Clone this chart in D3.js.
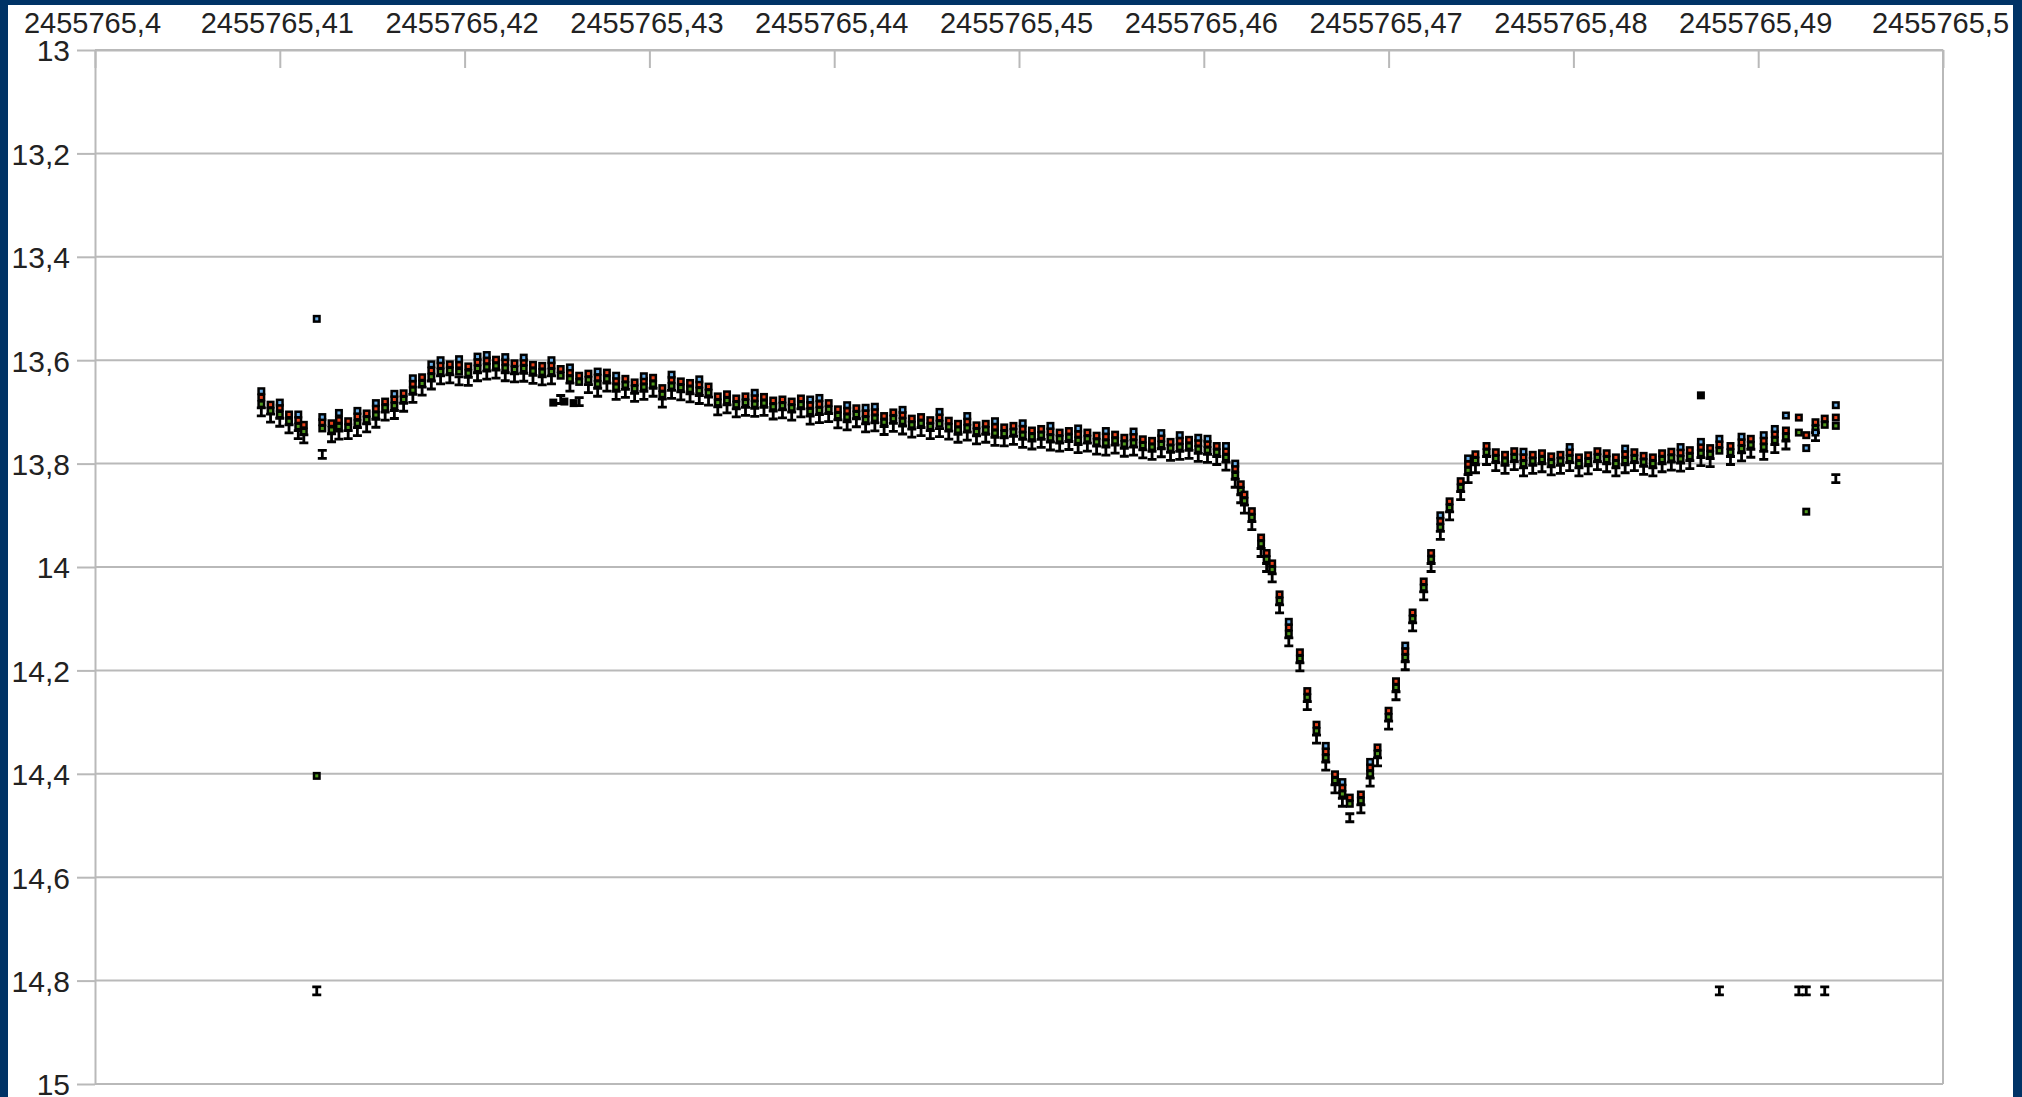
<!DOCTYPE html>
<html>
<head>
<meta charset="utf-8">
<script src="https://cdn.jsdelivr.net/npm/d3@7"></script>
<style>
  body { margin: 0; background: #003366; }
  svg { display: block; }
  text { font-family: "Liberation Sans", Arial, sans-serif; fill: #222; }
</style>
</head>
<body>
<div id="chart"></div>
<script>
// axis ticks
const JD0 = 2455765;
const xTicks = [2455765.40, 2455765.41, 2455765.42, 2455765.43, 2455765.44, 2455765.45,
                2455765.46, 2455765.47, 2455765.48, 2455765.49, 2455765.50];
const yTicks = [13, 13.2, 13.4, 13.6, 13.8, 14, 14.2, 14.4, 14.6, 14.8, 15];

// observation times (fraction of day after JD0)
const jdFrac = [
  .4090,.4095,.4100,.4105,.4110,.4113,.4120,.4123,.4128,.4132,
  .4137,.4142,.4147,.4152,.4157,.4162,.4167,.4172,.4177,.4182,
  .4187,.4192,.4197,.4202,.4207,.4212,.4217,.4222,.4227,.4232,
  .4237,.4242,.4247,.4252,.4257,.4262,.4267,.4272,.4277,.4282,
  .4287,.4292,.4297,.4302,.4307,.4312,.4317,.4322,.4327,.4332,
  .4337,.4342,.4347,.4352,.4357,.4362,.4367,.4372,.4377,.4382,
  .4387,.4392,.4397,.4402,.4407,.4412,.4417,.4422,.4427,.4432,
  .4437,.4442,.4447,.4452,.4457,.4462,.4467,.4472,.4477,.4482,
  .4487,.4492,.4497,.4502,.4507,.4512,.4517,.4522,.4527,.4532,
  .4537,.4542,.4547,.4552,.4557,.4562,.4567,.4572,.4577,.4582,
  .4587,.4592,.4597,.4602,.4607,.4612,.4617,.4620,.4622,.4626,
  .4631,.4634,.4637,.4641,.4646,.4652,.4656,.4661,.4666,.4671,
  .4675,.4679,.4685,.4690,.4694,.4700,.4704,.4709,.4713,.4719,
  .4723,.4728,.4733,.4739,.4743,.4747,.4753,.4758,.4763,.4768,
  .4773,.4778,.4783,.4788,.4793,.4798,.4803,.4808,.4813,.4818,
  .4823,.4828,.4833,.4838,.4843,.4848,.4853,.4858,.4863,.4869,
  .4874,.4879,.4885,.4891,.4896,.4903,.4909,.4915,.4922,.4926,
  .4931,.4936,.4942
];

// magnitudes, black series with error bars
const magBar = [
  13.700,13.712,13.720,13.733,13.744,13.752,14.820,13.782,13.750,13.745,
  13.744,13.738,13.731,13.722,13.708,13.705,13.691,13.674,13.660,13.648,
  13.638,13.636,13.640,13.641,13.632,13.629,13.627,13.632,13.634,13.633,
  13.637,13.640,13.638,13.676,13.652,13.680,13.655,13.662,13.652,13.668,
  13.664,13.672,13.668,13.662,13.683,13.666,13.669,13.673,13.676,13.679,
  13.698,13.694,13.702,13.699,13.701,13.699,13.706,13.704,13.708,13.702,
  13.716,13.713,13.711,13.723,13.727,13.721,13.731,13.729,13.736,13.730,
  13.735,13.741,13.738,13.744,13.740,13.745,13.751,13.747,13.754,13.751,
  13.757,13.758,13.755,13.761,13.764,13.761,13.766,13.768,13.765,13.771,
  13.768,13.774,13.776,13.772,13.778,13.776,13.781,13.784,13.779,13.786,
  13.784,13.782,13.788,13.790,13.794,13.805,13.838,13.868,13.888,13.920,
  13.972,14.001,14.021,14.081,14.145,14.193,14.268,14.333,14.385,14.429,
  14.455,14.485,14.468,14.416,14.377,14.306,14.249,14.191,14.116,14.056,
  14.001,13.939,13.901,13.862,13.829,13.810,13.794,13.806,13.811,13.804,
  13.816,13.811,13.808,13.814,13.811,13.806,13.816,13.812,13.804,13.808,
  13.816,13.810,13.806,13.813,13.816,13.808,13.805,13.807,13.802,13.796,
  13.798,14.820,13.794,13.787,13.780,13.784,13.771,13.764,14.820,14.820,
  13.748,14.820,13.829
];

const magGreen = [
  13.685,13.698,13.705,13.718,13.728,13.738,14.404,13.732,13.735,13.728,
  13.730,13.722,13.715,13.706,13.692,13.688,13.676,13.658,13.645,13.632,
  13.622,13.620,13.622,13.625,13.616,13.613,13.611,13.615,13.618,13.616,
  13.621,13.623,13.622,13.630,13.636,13.642,13.638,13.646,13.636,13.652,
  13.648,13.655,13.652,13.646,13.666,13.650,13.653,13.656,13.659,13.663,
  13.682,13.678,13.686,13.682,13.685,13.683,13.690,13.688,13.692,13.686,
  13.699,13.697,13.695,13.707,13.710,13.705,13.715,13.712,13.720,13.713,
  13.718,13.725,13.722,13.728,13.723,13.729,13.735,13.731,13.738,13.735,
  13.741,13.742,13.739,13.745,13.748,13.745,13.750,13.752,13.749,13.755,
  13.752,13.758,13.760,13.756,13.762,13.760,13.765,13.768,13.763,13.770,
  13.768,13.766,13.772,13.774,13.778,13.788,13.823,13.852,13.872,13.904,
  13.955,13.985,14.005,14.065,14.129,14.177,14.252,14.317,14.369,14.413,
  14.439,14.458,14.452,14.400,14.361,14.290,14.233,14.175,14.100,14.040,
  13.985,13.923,13.885,13.846,13.813,13.794,13.778,13.790,13.795,13.788,
  13.800,13.795,13.792,13.798,13.795,13.790,13.800,13.796,13.788,13.792,
  13.800,13.794,13.790,13.797,13.800,13.792,13.789,13.791,13.786,13.780,
  13.782,13.775,13.778,13.771,13.764,13.768,13.755,13.748,13.740,13.893,
  13.732,13.725,13.727
];

const magRed = [
  13.672,13.686,13.692,13.705,13.716,13.725,null,13.720,13.722,13.716,
  13.718,13.709,13.703,13.694,13.680,13.676,13.664,13.646,13.633,13.620,
  13.610,13.608,13.609,13.612,13.604,13.601,13.599,13.603,13.606,13.604,
  13.609,13.611,13.610,13.617,13.624,13.630,13.626,13.634,13.624,13.640,
  13.636,13.643,13.640,13.634,13.654,13.638,13.641,13.644,13.647,13.651,
  13.670,13.666,13.674,13.670,13.673,13.671,13.678,13.676,13.680,13.674,
  13.687,13.685,13.683,13.695,13.698,13.693,13.703,13.700,13.708,13.701,
  13.706,13.713,13.710,13.716,13.711,13.717,13.723,13.719,13.726,13.723,
  13.729,13.730,13.727,13.733,13.736,13.733,13.738,13.740,13.737,13.743,
  13.740,13.746,13.748,13.744,13.750,13.748,13.753,13.756,13.751,13.758,
  13.756,13.754,13.760,13.762,13.766,13.776,13.810,13.840,13.860,13.892,
  13.943,13.973,13.993,14.053,14.117,14.165,14.240,14.305,14.357,14.401,
  14.427,14.446,14.440,14.388,14.349,14.278,14.221,14.163,14.088,14.028,
  13.973,13.911,13.873,13.834,13.801,13.782,13.766,13.778,13.783,13.776,
  13.788,13.783,13.780,13.786,13.783,13.778,13.788,13.784,13.776,13.780,
  13.788,13.782,13.778,13.785,13.788,13.780,13.777,13.779,13.774,13.768,
  13.770,13.763,13.766,13.759,13.752,13.756,13.743,13.736,13.711,13.745,
  13.720,13.713,13.711
];

const magBlue = [
  13.660,null,13.682,null,13.705,null,13.520,13.710,null,13.702,
  null,13.698,null,13.683,null,13.665,null,13.635,null,13.608,
  13.600,null,13.598,null,13.593,13.590,null,13.594,null,13.595,
  null,null,13.600,null,13.614,null,null,13.622,null,13.630,
  null,null,13.631,null,null,13.628,null,null,13.637,null,
  null,null,null,null,13.663,null,null,null,null,null,
  13.676,13.673,null,null,13.687,null,13.692,13.690,null,null,
  13.696,null,null,null,13.700,null,null,13.708,null,null,
  13.718,null,null,13.722,null,null,13.727,null,null,13.732,
  null,null,13.737,null,null,13.738,null,null,13.741,null,
  13.745,null,13.750,13.752,null,13.766,13.800,null,null,null,
  null,null,null,null,14.106,null,null,null,14.346,null,
  14.416,null,null,14.377,null,null,null,14.152,null,null,
  null,13.900,null,null,13.790,null,null,null,null,null,
  13.777,null,null,null,null,13.768,null,null,null,null,
  null,13.771,null,null,null,null,null,13.768,null,13.758,
  null,13.752,null,13.748,null,13.745,13.733,13.707,null,13.770,
  13.740,null,13.687
];

// a few plain black points
const strayFrac = [.4248, .4254, .4259, .4869];
const strayMag = [13.682, 13.680, 13.683, 13.668];

const width = 2022, height = 1097;
const margin = {top: 50, right: 79, bottom: 13, left: 95};
const plotW = width - margin.left - margin.right;
const plotH = height - margin.top - margin.bottom;
const gridColor = '#b9b9b9';

const svg = d3.select('#chart').append('svg')
  .attr('width', width).attr('height', height);

svg.append('rect').attr('x', 8).attr('y', 5)
  .attr('width', 2005).attr('height', height - 5).attr('fill', '#fff');

const g = svg.append('g').attr('transform', `translate(${margin.left},${margin.top})`);

const x = d3.scaleLinear().domain([xTicks[0], xTicks[xTicks.length - 1]]).range([0, plotW]);
const y = d3.scaleLinear().domain([13, 15]).range([0, plotH]);

const fmt = v => String(+v.toFixed(2)).replace('.', ',');

// horizontal grid
g.append('g').selectAll('line').data(yTicks).enter().append('line')
  .attr('x1', 0).attr('x2', plotW)
  .attr('y1', d => y(d)).attr('y2', d => y(d))
  .attr('stroke', gridColor).attr('stroke-width', 2);

// right border
g.append('line').attr('x1', plotW).attr('x2', plotW).attr('y1', 0).attr('y2', plotH)
  .attr('stroke', gridColor).attr('stroke-width', 2);

// left axis
const leftAxis = d3.axisLeft(y).tickValues(yTicks).tickFormat(fmt).tickSize(18).tickSizeOuter(0).tickPadding(7);
const yAx = g.append('g').call(leftAxis);
yAx.select('.domain').attr('stroke', gridColor).attr('stroke-width', 2);
yAx.selectAll('.tick line').attr('stroke', gridColor).attr('stroke-width', 2);
yAx.selectAll('.tick text')
  .style('font-size', '30px').attr('fill', '#222').attr('dy', '0.36em');

// top axis, ticks pointing down into the plot
const topAxis = d3.axisTop(x).tickValues(xTicks).tickFormat(fmt).tickSizeInner(-18).tickSizeOuter(0).tickPadding(17);
const xAx = g.append('g').call(topAxis);
xAx.select('.domain').attr('stroke', gridColor).attr('stroke-width', 2);
xAx.selectAll('.tick line').attr('stroke', gridColor).attr('stroke-width', 2);
xAx.selectAll('.tick text')
  .style('font-size', '29px').attr('fill', '#222').attr('x', -3);

const pts = jdFrac.map((f, i) => ({
  t: JD0 + f, bar: magBar[i], green: magGreen[i], red: magRed[i], blue: magBlue[i]
}));

// error-bar series
g.append('g').selectAll('path').data(pts.filter(d => d.bar != null)).enter().append('path')
  .attr('d', d => {
    const cx = x(d.t), cy = y(d.bar);
    return `M${cx - 4.5},${cy - 4}h9M${cx},${cy - 4}v8M${cx - 4.5},${cy + 4}h9`;
  })
  .attr('stroke', '#000').attr('stroke-width', 2.8).attr('fill', 'none');

// plain black points
g.append('g').selectAll('rect').data(strayFrac.map((f, i) => ({t: JD0 + f, m: strayMag[i]}))).enter()
  .append('rect')
  .attr('x', d => x(d.t) - 4).attr('y', d => y(d.m) - 4)
  .attr('width', 8).attr('height', 8).attr('fill', '#000');

function drawMarkers(key, color) {
  const data = pts.filter(d => d[key] != null);
  const grp = g.append('g');
  grp.selectAll('rect.o').data(data).enter().append('rect').attr('class', 'o')
    .attr('x', d => x(d.t) - 4).attr('y', d => y(d[key]) - 4)
    .attr('width', 8).attr('height', 8).attr('fill', '#000');
  grp.selectAll('rect.i').data(data).enter().append('rect').attr('class', 'i')
    .attr('x', d => x(d.t) - 1.5).attr('y', d => y(d[key]) - 1.5)
    .attr('width', 3).attr('height', 3).attr('fill', color);
}

drawMarkers('green', '#4f9a1c');
drawMarkers('red', '#e8421a');
drawMarkers('blue', '#6aaee8');
</script>
</body>
</html>
